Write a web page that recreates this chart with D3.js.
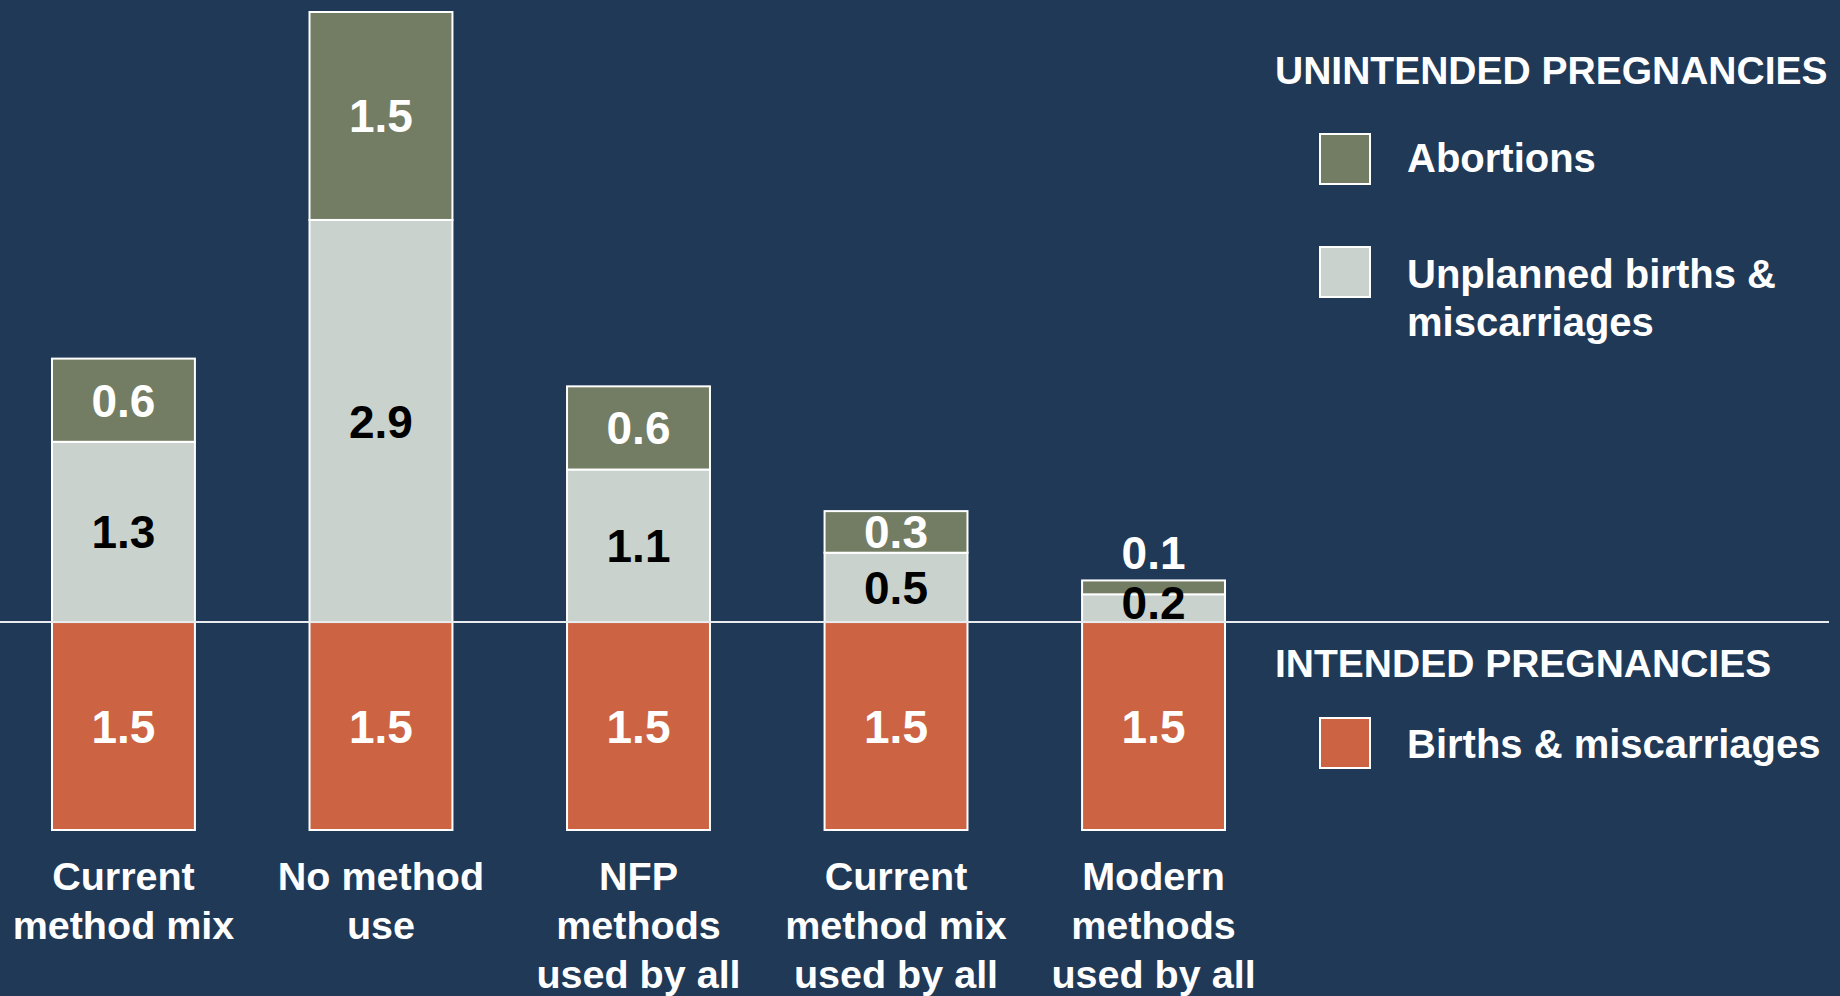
<html>
<script src="https://d3js.org/d3.v7.min.js"></script>
<style>
  body { margin: 0; background: #1f3957; }
  text { font-family: "Liberation Sans", Arial, sans-serif; font-weight: bold; }
</style>
<body>
<svg width="1840" height="996"></svg>
<script>
// data
var categories = ["Current method mix", "No method use", "NFP methods used by all",
                  "Current method mix used by all", "Modern methods used by all"];
var categoryLines = [["Current", "method mix"], ["No method", "use"], ["NFP", "methods", "used by all"],
                     ["Current", "method mix", "used by all"], ["Modern", "methods", "used by all"]];
var intended = [1.5, 1.5, 1.5, 1.5, 1.5];
var unplanned = [1.3, 2.9, 1.1, 0.5, 0.2];
var abortions = [0.6, 1.5, 0.6, 0.3, 0.1];

var cAbort = "#737d63", cUnpl = "#c9d2cd", cInt = "#cc6443";

var svg = d3.select("svg");
svg.append("rect").attr("width", 1840).attr("height", 996).attr("fill", "#1f3957");

var xs = d3.scaleBand().domain(categories).range([52, 1225]).paddingInner(0.445).paddingOuter(0);
var ys = d3.scaleLinear().domain([-1.5, 4.4]).range([830, 12]);

// build segments
var segs = [];
categories.forEach(function(c, i) {
  segs.push({cat: c, y0: -intended[i], y1: 0, v: intended[i], fill: cInt, txt: "#fff", kind: "int"});
  segs.push({cat: c, y0: 0, y1: unplanned[i], v: unplanned[i], fill: cUnpl, txt: "#000", kind: "unp"});
  segs.push({cat: c, y0: unplanned[i], y1: unplanned[i] + abortions[i], v: abortions[i], fill: cAbort, txt: "#fff", kind: "ab"});
});

svg.append("g").selectAll("rect").data(segs).enter().append("rect")
  .attr("x", function(d) { return xs(d.cat); })
  .attr("width", xs.bandwidth())
  .attr("y", function(d) { return ys(d.y1); })
  .attr("height", function(d) { return ys(d.y0) - ys(d.y1); })
  .attr("fill", function(d) { return d.fill; })
  .attr("stroke", "#fff").attr("stroke-width", 2);

// baseline between intended and unintended
svg.append("line").attr("x1", 0).attr("x2", 1829).attr("y1", ys(0)).attr("y2", ys(0))
  .attr("stroke", "#e8ecef").attr("stroke-width", 2);

// value labels
svg.append("g").selectAll("text").data(segs).enter().append("text")
  .attr("x", function(d) { return xs(d.cat) + xs.bandwidth() / 2; })
  .attr("y", function(d) {
    var top = ys(d.y1), bot = ys(d.y0), h = bot - top;
    if (d.kind == "ab" && h < 30) return top - 11;
    var mid = (top + bot) / 2 + 16.5;
    return Math.min(mid, bot - 3);
  })
  .attr("text-anchor", "middle")
  .attr("font-size", 46)
  .attr("fill", function(d) { return d.txt; })
  .text(function(d) { return d3.format(".1f")(d.v); });

// category labels
var cl = svg.append("g").selectAll("text").data(categories).enter().append("text")
  .attr("x", function(d) { return xs(d) + xs.bandwidth() / 2; })
  .attr("y", 890)
  .attr("text-anchor", "middle")
  .attr("font-size", 39.5)
  .attr("fill", "#fff");
cl.each(function(d, i) {
  var t = d3.select(this);
  categoryLines[i].forEach(function(line, j) {
    t.append("tspan").attr("x", xs(d) + xs.bandwidth() / 2).attr("y", 890 + j * 49).text(line);
  });
});

// legend
var lg = svg.append("g").attr("fill", "#fff");
lg.append("text").attr("x", 1275).attr("y", 84).attr("font-size", 39).text("UNINTENDED PREGNANCIES");
lg.append("text").attr("x", 1275).attr("y", 677).attr("font-size", 39).text("INTENDED PREGNANCIES");
var items = [
  {fill: cAbort, y: 134, lines: ["Abortions"], ty: 172},
  {fill: cUnpl, y: 247, lines: ["Unplanned births &", "miscarriages"], ty: 288},
  {fill: cInt, y: 718, lines: ["Births & miscarriages"], ty: 758}
];
items.forEach(function(it) {
  lg.append("rect").attr("x", 1320).attr("y", it.y).attr("width", 50).attr("height", 50)
    .attr("fill", it.fill).attr("stroke", "#fff").attr("stroke-width", 2);
  var t = lg.append("text").attr("font-size", 40);
  it.lines.forEach(function(l, j) {
    t.append("tspan").attr("x", 1407).attr("y", it.ty + j * 48).text(l);
  });
});
</script>
</body>
</html>
